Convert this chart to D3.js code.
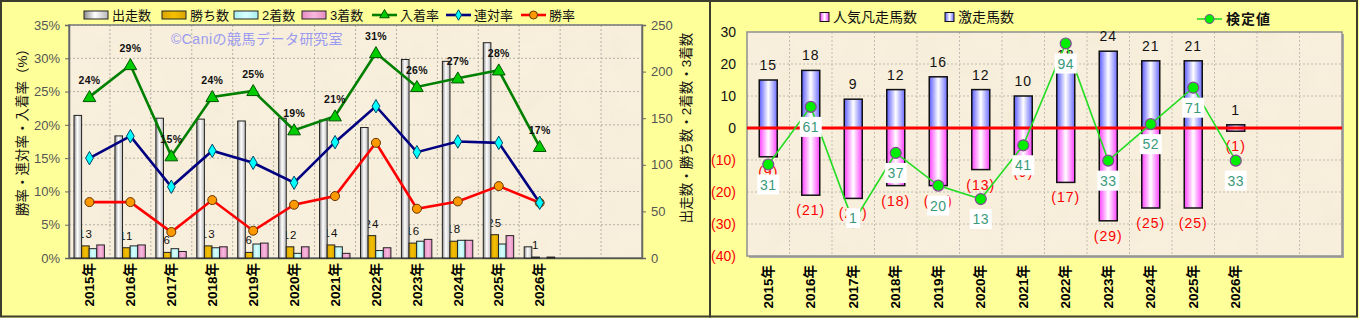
<!DOCTYPE html>
<html><head><meta charset="utf-8">
<script src="https://cdn.jsdelivr.net/npm/d3@7"></script>
<style>
html,body{margin:0;padding:0;background:#FFFF99;}
svg{display:block;}
text{font-family:"Liberation Sans","Noto Sans CJK JP",sans-serif;}
</style></head>
<body><svg id="c" width="1359" height="318"></svg>
<script>
// ---------- DATA ----------
const years = ["2015年","2016年","2017年","2018年","2019年","2020年","2021年","2022年","2023年","2024年","2025年","2026年"];
const slotCount = 14; // two empty slots at the end
// left chart
const starts  = [153,131,150,149,147,150,148,140,213,211,231,12];
const wins    = [13,11,6,13,6,12,14,24,16,18,25,1];
const seconds = [10,13,10,11,15,5,12,8,18,19,15,0];
const thirds  = [14,14,7,12,16,12,5,11,20,19,24,1];
const hitRate   = [24.2,29.0,15.3,24.2,25.1,19.2,21.3,30.8,25.7,27.0,28.2,16.7];
const placeRate = [15.0,18.3,10.7,16.1,14.3,11.3,17.4,22.8,15.9,17.5,17.3,8.3];
const winRate   = [8.4,8.4,3.9,8.7,4.1,8.0,9.3,17.3,7.4,8.5,10.8,8.3];
const leftTicks  = [0,5,10,15,20,25,30,35];
const rightTicks = [0,50,100,150,200,250];
// right chart
const gekisou = [15,18,9,12,16,12,10,18,24,21,21,1];
const bonsou  = [9,21,22,18,18,13,9,17,29,25,25,1];
const kentei  = [31,61,1,37,20,13,41,94,33,52,71,33];
const r2Ticks = [30,20,10,0,-10,-20,-30,-40];

const svg = d3.select("#c");
const defs = svg.append("defs");

function hGrad(id, stops){
  const g = defs.append("linearGradient").attr("id",id).attr("x1","0").attr("x2","1").attr("y1","0").attr("y2","0");
  stops.forEach(s=>g.append("stop").attr("offset",s[0]).attr("stop-color",s[1]));
}
hGrad("gWhite",[[0,"#8c8c8c"],[0.45,"#ffffff"],[1,"#b8b8b8"]]);
hGrad("gGold",[[0,"#d9a400"],[0.5,"#f5c000"],[1,"#d9a400"]]);
hGrad("gCyan",[[0,"#a8eeee"],[0.5,"#d8ffff"],[1,"#a8eeee"]]);
hGrad("gPink",[[0,"#e68cc4"],[0.5,"#f8b8dc"],[1,"#e68cc4"]]);
hGrad("gBlue",[[0,"#5a5aff"],[0.5,"#ffffff"],[1,"#6a6aff"]]);
hGrad("gMag",[[0,"#ff40ff"],[0.5,"#ffffff"],[1,"#ff40ff"]]);

const f = defs.append("filter").attr("id","tex").attr("x",0).attr("y",0).attr("width","100%").attr("height","100%");
f.append("feTurbulence").attr("type","fractalNoise").attr("baseFrequency","0.035").attr("numOctaves",3).attr("seed",5);
f.append("feColorMatrix").attr("type","matrix").attr("values","0 0 0 0 0.86  0 0 0 0 0.78  0 0 0 0 0.6  0 0 0 0.9 -0.3");

// panels
svg.append("rect").attr("x",0).attr("y",0).attr("width",1359).attr("height",318).attr("fill","#FFFF99");
svg.append("rect").attr("x",1).attr("y",1).attr("width",709).attr("height",315.5).attr("fill","none").attr("stroke","#3d3d2e").attr("stroke-width",2);
svg.append("rect").attr("x",710).attr("y",1).attr("width",647).attr("height",315.5).attr("fill","none").attr("stroke","#3d3d2e").attr("stroke-width",2);

const idx = d3.range(slotCount);

// ================= LEFT CHART =================
const L = {x0:69, x1:642, y0:25, y1:258};
const xL = d3.scaleBand().domain(idx).range([L.x0,L.x1]).padding(0);
const yL = d3.scaleLinear().domain([0,35]).range([L.y1,L.y0]);
const yR = d3.scaleLinear().domain([0,250]).range([L.y1,L.y0]);
const gl = svg.append("g");

gl.append("rect").attr("x",L.x0).attr("y",L.y0).attr("width",L.x1-L.x0).attr("height",L.y1-L.y0).attr("fill","#f8efdd");
gl.append("rect").attr("x",L.x0).attr("y",L.y0).attr("width",L.x1-L.x0).attr("height",L.y1-L.y0).attr("filter","url(#tex)").attr("opacity",0.5);
// grid
gl.selectAll(".hg").data(leftTicks.slice(1)).join("line")
  .attr("x1",L.x0).attr("x2",L.x1).attr("y1",d=>yL(d)).attr("y2",d=>yL(d))
  .attr("stroke","#b5b0a5").attr("stroke-dasharray","2,2");
gl.selectAll(".vg").data(idx.slice(1)).join("line")
  .attr("x1",d=>xL(d)).attr("x2",d=>xL(d)).attr("y1",L.y0).attr("y2",L.y1)
  .attr("stroke","#b5b0a5").attr("stroke-dasharray","2,2");
gl.append("rect").attr("x",L.x0).attr("y",L.y0).attr("width",L.x1-L.x0).attr("height",L.y1-L.y0).attr("fill","none").attr("stroke","#7a7a7a").attr("stroke-width",1.5);

// axes
const axL = d3.axisLeft(yL).tickValues(leftTicks).tickFormat(d=>d+"%").tickSize(4);
const gAxL = gl.append("g").attr("transform",`translate(${L.x0},0)`).call(axL);
const axR = d3.axisRight(yR).tickValues(rightTicks).tickSize(4);
const gAxR = gl.append("g").attr("transform",`translate(${L.x1},0)`).call(axR);
[gAxL,gAxR].forEach(g=>{
  g.select(".domain").attr("stroke","#666").attr("stroke-width",1.5);
  g.selectAll(".tick line").attr("stroke","#666");
  g.selectAll(".tick text").attr("fill","#555").attr("font-size",13).attr("font-family","Liberation Sans, sans-serif");
});
gAxL.selectAll(".tick text").attr("x",-9);
gAxR.selectAll(".tick text").attr("x",9);

const axB = d3.axisBottom(xL).tickSize(0).tickFormat(i=> i<years.length ? years[i] : "");
const gAxB = gl.append("g").attr("transform",`translate(0,${L.y1})`).call(axB);
gAxB.select(".domain").attr("stroke","#555").attr("stroke-width",1.5);
gAxB.selectAll(".tick text").attr("transform","rotate(-90)").attr("text-anchor","end")
  .attr("x",-5).attr("y",0).attr("dy","0.35em").attr("fill","#000").attr("font-size",13.5).attr("font-weight","bold");

// count labels (drawn below bars)
const bw = 7.6, off0 = 5;
const bx = (i,k)=> xL(i)+off0+k*bw;
gl.selectAll(".wl").data(years).join("text")
  .attr("x",(d,i)=>bx(i,1)+bw/2).attr("y",(d,i)=>yR(wins[i])-8)
  .attr("text-anchor","middle").attr("font-size",11.5).attr("fill","#111").attr("letter-spacing",1)
  .text((d,i)=>wins[i]);

const barSets = [[starts,"gWhite"],[wins,"gGold"],[seconds,"gCyan"],[thirds,"gPink"]];
barSets.forEach(([arr,grad],k)=>{
  gl.selectAll(".b"+k).data(arr).join("rect")
    .attr("x",(d,i)=>bx(i,k)).attr("width",bw)
    .attr("y",d=>yR(d)).attr("height",d=>L.y1-yR(d))
    .attr("fill",`url(#${grad})`).attr("stroke","#222").attr("stroke-width",1);
});

// lines
function lineSeries(arr,color){
  gl.append("path").datum(arr)
    .attr("d",d3.line().x((d,i)=>xL(i)+xL.bandwidth()/2).y(d=>yL(d)))
    .attr("fill","none").attr("stroke",color).attr("stroke-width",2.6);
}
lineSeries(winRate,"#ff0000");
lineSeries(placeRate,"#000080");
lineSeries(hitRate,"#008000");
const cx = i=>xL(i)+xL.bandwidth()/2;
gl.selectAll(".mw").data(winRate).join("circle")
  .attr("cx",(d,i)=>cx(i)).attr("cy",d=>yL(d)).attr("r",4.5)
  .attr("fill","#ff9900").attr("stroke","#663300").attr("stroke-width",1);
gl.selectAll(".mp").data(placeRate).join("path")
  .attr("d",d3.symbol(d3.symbolDiamond,52)())
  .attr("transform",(d,i)=>`translate(${cx(i)},${yL(d)})`)
  .attr("fill","#00ffff").attr("stroke","#004466").attr("stroke-width",1);
gl.selectAll(".mh").data(hitRate).join("path")
  .attr("d",d3.symbol(d3.symbolTriangle,70)())
  .attr("transform",(d,i)=>`translate(${cx(i)},${yL(d)+1})`)
  .attr("fill","#00cc00").attr("stroke","#005500").attr("stroke-width",1);
gl.selectAll(".hl").data(hitRate).join("text")
  .attr("x",(d,i)=>cx(i)).attr("y",d=>yL(d)-13)
  .attr("text-anchor","middle").attr("font-size",10.5).attr("font-weight","bold").attr("fill","#111").attr("letter-spacing",0.3)
  .text(d=>Math.round(d)+"%");

// watermark
gl.append("text").attr("x",257).attr("y",44).attr("text-anchor","middle").attr("font-size",14)
  .attr("fill","#9a9af0").attr("letter-spacing",0.5).text("©Caniの競馬データ研究室");

// axis titles
gl.append("text").attr("transform","translate(27,129) rotate(-90)").attr("text-anchor","middle")
  .attr("font-size",13.5).attr("fill","#111").text("勝率・連対率・入着率（%）");
gl.append("text").attr("transform","translate(691,128) rotate(-90)").attr("text-anchor","middle")
  .attr("font-size",13.5).attr("fill","#111").text("出走数・勝ち数・2着数・3着数");

// legend
const legL = [
  {t:"出走数",type:"bar",g:"gWhite",x:84},
  {t:"勝ち数",type:"bar",g:"gGold",x:162},
  {t:"2着数",type:"bar",g:"gCyan",x:234},
  {t:"3着数",type:"bar",g:"gPink",x:302},
  {t:"入着率",type:"line",c:"#008000",m:"tri",x:372},
  {t:"連対率",type:"line",c:"#000080",m:"dia",x:446},
  {t:"勝率",type:"line",c:"#ff0000",m:"cir",x:521}
];
const ly = 15;
legL.forEach(it=>{
  const g = gl.append("g");
  if(it.type==="bar"){
    g.append("rect").attr("x",it.x).attr("y",ly-4).attr("width",24).attr("height",8)
      .attr("fill",`url(#${it.g})`).attr("stroke","#222").attr("stroke-width",1);
  } else {
    g.append("line").attr("x1",it.x).attr("x2",it.x+25).attr("y1",ly).attr("y2",ly).attr("stroke",it.c).attr("stroke-width",2.6);
    const mx = it.x+12.5;
    if(it.m==="tri") g.append("path").attr("d",d3.symbol(d3.symbolTriangle,40)()).attr("transform",`translate(${mx},${ly})`).attr("fill","#00cc00").attr("stroke","#005500");
    if(it.m==="dia") g.append("path").attr("d",d3.symbol(d3.symbolDiamond,32)()).attr("transform",`translate(${mx},${ly})`).attr("fill","#00ffff").attr("stroke","#004466");
    if(it.m==="cir") g.append("circle").attr("cx",mx).attr("cy",ly).attr("r",4).attr("fill","#ff9900").attr("stroke","#663300");
  }
  g.append("text").attr("x",it.x+28).attr("y",ly).attr("dy","0.36em").attr("font-size",13).attr("fill","#111").text(it.t);
});

// ================= RIGHT CHART =================
const R = {x0:747, x1:1342, y0:32, y1:256};
const x2 = d3.scaleBand().domain(idx).range([R.x0,R.x1]).padding(0);
const y2 = d3.scaleLinear().domain([-40,30]).range([R.y1,R.y0]);
const y3 = d3.scaleLinear().domain([50-40/0.6,50+30/0.6]).range([R.y1,R.y0]);
const gr = svg.append("g");
gr.append("rect").attr("x",R.x0+2).attr("y",R.y0+2).attr("width",R.x1-R.x0).attr("height",R.y1-R.y0).attr("fill","#a8a8a0");
gr.append("rect").attr("x",R.x0).attr("y",R.y0).attr("width",R.x1-R.x0).attr("height",R.y1-R.y0).attr("fill","#f8efdd");
gr.append("rect").attr("x",R.x0).attr("y",R.y0).attr("width",R.x1-R.x0).attr("height",R.y1-R.y0).attr("filter","url(#tex)").attr("opacity",0.5);
gr.selectAll(".hg").data(r2Ticks.slice(1,-1)).join("line")
  .attr("x1",R.x0).attr("x2",R.x1).attr("y1",d=>y2(d)).attr("y2",d=>y2(d))
  .attr("stroke","#c2bdb2").attr("stroke-dasharray","2,2");
gr.selectAll(".vg").data(idx.slice(1)).join("line")
  .attr("x1",d=>x2(d)).attr("x2",d=>x2(d)).attr("y1",R.y0).attr("y2",R.y1)
  .attr("stroke","#c2bdb2").attr("stroke-dasharray","2,2");
gr.append("rect").attr("x",R.x0).attr("y",R.y0).attr("width",R.x1-R.x0).attr("height",R.y1-R.y0).attr("fill","none").attr("stroke","#909090").attr("stroke-width",1.5);

const ax2 = d3.axisLeft(y2).tickValues(r2Ticks).tickSize(0).tickFormat(d=> d<0 ? `(${-d})` : d);
const gAx2 = gr.append("g").attr("transform",`translate(${R.x0},0)`).call(ax2);
gAx2.select(".domain").remove();
gAx2.selectAll(".tick text").attr("x",-11).attr("font-size",14).attr("fill",d=>d<0?"#ff0000":"#111");

const axB2 = d3.axisBottom(x2).tickSize(0).tickFormat(i=> i<years.length ? years[i] : "");
const gAxB2 = gr.append("g").attr("transform",`translate(0,${R.y1})`).call(axB2);
gAxB2.select(".domain").remove();
gAxB2.selectAll(".tick text").attr("transform","rotate(-90)").attr("text-anchor","end")
  .attr("x",-9).attr("y",0).attr("dy","0.35em").attr("fill","#000").attr("font-size",13.5).attr("font-weight","bold");

const cw = 18;
const c2 = i=>x2(i)+x2.bandwidth()/2;
gr.selectAll(".bb").data(gekisou).join("rect")
  .attr("x",(d,i)=>c2(i)-cw/2).attr("width",cw).attr("y",d=>y2(d)).attr("height",d=>y2(0)-y2(d))
  .attr("fill","url(#gBlue)").attr("stroke","#111").attr("stroke-width",1.5);
gr.selectAll(".bm").data(bonsou).join("rect")
  .attr("x",(d,i)=>c2(i)-cw/2).attr("width",cw).attr("y",y2(0)).attr("height",d=>y2(-d)-y2(0))
  .attr("fill","url(#gMag)").attr("stroke","#111").attr("stroke-width",1.5);
gr.selectAll(".lb").data(gekisou).join("text")
  .attr("x",(d,i)=>c2(i)).attr("y",d=>y2(d)-15).attr("dy","0.35em")
  .attr("text-anchor","middle").attr("font-size",14).attr("fill","#111").attr("letter-spacing",1).text(d=>d);
gr.selectAll(".lm").data(bonsou).join("text")
  .attr("x",(d,i)=>c2(i)).attr("y",d=>y2(-d)+15).attr("dy","0.35em")
  .attr("text-anchor","middle").attr("font-size",14).attr("fill","#ff0000").attr("letter-spacing",1).text(d=>`(${d})`);

// zero line
gr.append("line").attr("x1",R.x0).attr("x2",R.x1).attr("y1",y2(0)).attr("y2",y2(0)).attr("stroke","#ff0000").attr("stroke-width",3);

// 検定値 line
gr.append("path").datum(kentei)
  .attr("d",d3.line().x((d,i)=>c2(i)).y(d=>y3(d)))
  .attr("fill","none").attr("stroke","#22dd22").attr("stroke-width",1.6);
gr.selectAll(".kp").data(kentei).join("circle")
  .attr("cx",(d,i)=>c2(i)).attr("cy",d=>y3(d)).attr("r",5.5)
  .attr("fill","#00ee00").attr("stroke","#884499").attr("stroke-width",1.2);
// labels sit below the point, except near the plot bottom where they overlay the point
const labelDy = d => (y3(d) > 210 ? -4 : 20);
const kl = gr.selectAll(".kl").data(kentei).join("g")
  .attr("transform",(d,i)=>`translate(${c2(i)},${y3(d)+labelDy(d)})`);
kl.append("rect").attr("x",d=>String(d).length>1?-11:-7).attr("y",-10).attr("width",d=>String(d).length>1?22:14).attr("height",20).attr("fill","#ffffff");
kl.append("text").attr("text-anchor","middle").attr("dy","0.36em").attr("font-size",14).attr("fill","#3a9a7a").attr("letter-spacing",0.5).text(d=>d);

// right legend
const ry = 17;
gr.append("rect").attr("x",820).attr("y",ry-4.5).attr("width",9).attr("height",9).attr("fill","url(#gMag)").attr("stroke","#111");
gr.append("text").attr("x",833).attr("y",ry).attr("dy","0.36em").attr("font-size",14).attr("fill","#111").text("人気凡走馬数");
gr.append("rect").attr("x",945).attr("y",ry-4.5).attr("width",9).attr("height",9).attr("fill","url(#gBlue)").attr("stroke","#111");
gr.append("text").attr("x",958).attr("y",ry).attr("dy","0.36em").attr("font-size",14).attr("fill","#111").text("激走馬数");
gr.append("line").attr("x1",1197).attr("x2",1222).attr("y1",ry+2).attr("y2",ry+2).attr("stroke","#22dd22").attr("stroke-width",1.6);
gr.append("circle").attr("cx",1209.5).attr("cy",ry+2).attr("r",4.5).attr("fill","#00ee00").attr("stroke","#884499");
gr.append("text").attr("x",1226).attr("y",ry+2).attr("dy","0.36em").attr("font-size",14).attr("font-weight","bold").attr("fill","#111").attr("letter-spacing",1).text("検定値");
</script></body></html>
